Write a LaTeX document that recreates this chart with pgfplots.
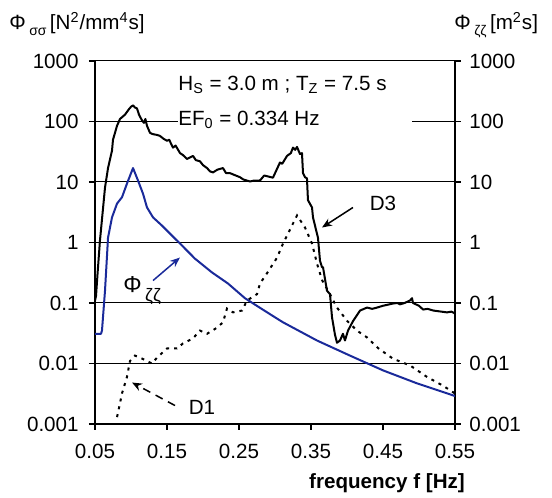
\documentclass[border=0pt]{standalone}
\usepackage{fontspec}
\setmainfont{Liberation Sans}
\usepackage{pgfplots}
\pgfplotsset{compat=1.18}
\usetikzlibrary{arrows.meta}
\definecolor{spec-blue}{HTML}{1A2A9A}

\begin{document}
\fontsize{10.3}{12.4}\selectfont
\begin{tikzpicture}
\useasboundingbox (-47.5pt,-37pt) rectangle (228.5pt,212pt);

\begin{axis}[
    width=180pt, height=181.5pt, scale only axis,
    at={(0,0)}, anchor=south west,
    xmin=0.05, xmax=0.55,
    ymode=log, ymin=0.001, ymax=1000,
    ytick={0.001,0.01,0.1,1,10,100,1000},
    yticklabels={0.001,0.01,0.1,1,10,100,1000},
    yminorticks=false, xminorticks=false,
    tick align=outside, major tick length=3pt,
    axis line style={black, line width=0.75pt},
    tick style={black, line width=0.6pt},
    axis x line*=bottom, axis y line*=left,
    xtick={0.05,0.15,0.25,0.35,0.45,0.55},
    xticklabels={0.05,0.15,0.25,0.35,0.45,0.55},
    ymajorgrids, major grid style={black, line width=0.5pt},
    yticklabel style={inner sep=0pt, xshift=-5pt},
    xticklabel style={inner sep=0pt, yshift=-7pt},
  ]
  % D3: stress spectrum
  \addplot[black, line width=1pt, line join=round] coordinates {
    (0.05,0.11) (0.0514,0.13) (0.0535,0.3) (0.0569,1.08) (0.0639,8.1)
    (0.0681,17) (0.0736,33) (0.075,50) (0.0806,85) (0.0847,110) (0.0917,130)
    (0.0972,160) (0.1,175) (0.1028,185) (0.1056,170) (0.1083,165)
    (0.1111,130) (0.1153,104) (0.118,95) (0.12,110) (0.1222,85)
    (0.1264,65) (0.13,62) (0.1361,60) (0.14,58) (0.145,52) (0.15,48)
    (0.153,50) (0.1583,37) (0.162,40) (0.1681,30) (0.172,28) (0.1778,24)
    (0.1861,27) (0.19,23) (0.1958,22) (0.2,19) (0.2056,17) (0.2097,15)
    (0.2139,14.4) (0.22,16) (0.2278,17) (0.232,14) (0.2375,14) (0.2514,12)
    (0.256,11) (0.2653,10.2) (0.27,10.5) (0.2792,10.6) (0.285,12.8)
    (0.2972,11.8) (0.3069,21) (0.31,20) (0.3167,27) (0.322,30) (0.325,37)
    (0.328,34) (0.3306,38) (0.3347,29) (0.3375,30) (0.3389,14) (0.3417,12)
    (0.3444,11.5) (0.3458,5) (0.3514,3.8) (0.3528,2.6) (0.3583,1.4)
    (0.3597,1.2) (0.3625,0.5) (0.3653,0.39) (0.3667,0.39) (0.3722,0.16)
    (0.3764,0.14) (0.3792,0.058) (0.3833,0.03) (0.3861,0.022) (0.3903,0.024)
    (0.3944,0.031) (0.3972,0.024) (0.4014,0.035) (0.4083,0.05) (0.4181,0.075)
    (0.4278,0.084) (0.435,0.08) (0.4417,0.084) (0.45,0.09) (0.4639,0.098)
    (0.47,0.1) (0.4736,0.095) (0.48,0.1) (0.4875,0.11) (0.4903,0.12)
    (0.4917,0.1) (0.5,0.09) (0.5056,0.078) (0.512,0.08) (0.52,0.075)
    (0.5389,0.07) (0.545,0.072) (0.55,0.067)
  };
  % D1: dotted
  \addplot[black, line width=1pt, dash pattern=on 1.5pt off 2.5pt] coordinates {
    (0.0806,0.0013) (0.0847,0.0022) (0.0875,0.0032) (0.0944,0.006)
    (0.0986,0.011) (0.1056,0.0135) (0.1125,0.0125) (0.1222,0.011)
    (0.1292,0.01) (0.1361,0.0125) (0.15,0.0177) (0.1639,0.0177)
    (0.1722,0.0215) (0.1861,0.026) (0.1958,0.035) (0.2056,0.031)
    (0.2194,0.039) (0.2278,0.048) (0.2333,0.081) (0.2417,0.07)
    (0.2542,0.075) (0.2611,0.11) (0.275,0.14) (0.2792,0.21) (0.2889,0.31)
    (0.3028,0.56) (0.3111,0.96) (0.3306,2.8) (0.3417,1.77) (0.3514,0.96)
    (0.3583,0.45) (0.3653,0.24) (0.3764,0.14) (0.3861,0.084) (0.4,0.051)
    (0.4139,0.035) (0.4278,0.027) (0.4431,0.018) (0.4639,0.012)
    (0.4875,0.0093) (0.5111,0.006) (0.5333,0.0043) (0.55,0.0032)
  };
  % text box
  \fill[white] (axis cs:0.1653,811) rectangle (axis cs:0.4903,52.4);
  \node[anchor=base west, inner sep=0pt] at (axis cs:0.1653,325)
    {H\textsubscript{S} = 3.0 m ; T\textsubscript{Z} = 7.5 s};
  \node[anchor=base west, inner sep=0pt] at (axis cs:0.1653,85.9)
    {EF\textsubscript{0} = 0.334 Hz};
  % annotations
  \node[inner sep=0pt] at (axis cs:0.45,4.41) {D3};
  \draw[black, line width=0.75pt, -{Stealth[length=5pt,width=4pt]}]
    (axis cs:0.4083,3.79) -- (axis cs:0.3653,1.77);
  \node[inner sep=0pt] at (axis cs:0.1986,0.00187) {D1};
  \draw[black, line width=0.75pt, dash pattern=on 4pt off 3pt, -{Stealth[length=5pt,width=4pt]}]
    (axis cs:0.1611,0.00202) -- (axis cs:0.1014,0.00485);
  \node[anchor=base west, inner sep=0pt] at (axis cs:0.0889,0.149)
    {{\fontsize{11.5}{13}\selectfont Φ}\,\raisebox{-0.8ex}{\small ζζ}};
\end{axis}

\begin{axis}[
    width=180pt, height=181.5pt, scale only axis,
    at={(0,0)}, anchor=south west,
    xmin=0.05, xmax=0.55,
    ymode=log, ymin=0.001, ymax=1000,
    ytick={0.001,0.01,0.1,1,10,100,1000},
    yticklabels={0.001,0.01,0.1,1,10,100,1000},
    yminorticks=false,
    tick align=outside, major tick length=3pt,
    axis line style={black, line width=0.75pt},
    tick style={black, line width=0.6pt},
    axis x line=none, axis y line*=right,
    yticklabel style={inner sep=0pt, xshift=4pt, anchor=west},
  ]
  % Phi_zeta zeta: wave spectrum
  \addplot[spec-blue, line width=1pt, line join=round] coordinates {
    (0.05,0.031) (0.0583,0.031) (0.0597,0.035) (0.0639,0.16) (0.0681,1.2)
    (0.0736,2.6) (0.0806,4.4) (0.0875,5.6) (0.0944,9.4) (0.1028,17)
    (0.1097,10.6) (0.1167,6.4) (0.1222,3.8) (0.1306,2.6) (0.1431,1.9)
    (0.1569,1.3) (0.1681,0.96) (0.1889,0.54) (0.2125,0.32) (0.2347,0.21)
    (0.2583,0.12) (0.2722,0.094) (0.3,0.058) (0.3111,0.048) (0.3583,0.024)
    (0.4042,0.0135) (0.45,0.0077) (0.4972,0.0047) (0.55,0.0029)
  };
  \draw[spec-blue, line width=0.75pt, -{Stealth[length=5pt,width=4pt]}]
    (axis cs:0.1306,0.235) -- (axis cs:0.168,0.565);
\end{axis}

\node[anchor=base west, inner sep=0pt] at (-43pt,197pt)
  {Φ\,\raisebox{-0.5ex}{\scriptsize σσ}\,[N\textsuperscript{2}/mm\textsuperscript{4}s]};
\node[anchor=base west, inner sep=0pt] at (179.5pt,197pt)
  {Φ\,\raisebox{-0.5ex}{\scriptsize ζζ}\,[m\textsuperscript{2}s]};
\node[anchor=base, inner sep=0pt, font=\bfseries] at (146pt,-32.5pt)
  {frequency f [Hz]};
\end{tikzpicture}
\end{document}
